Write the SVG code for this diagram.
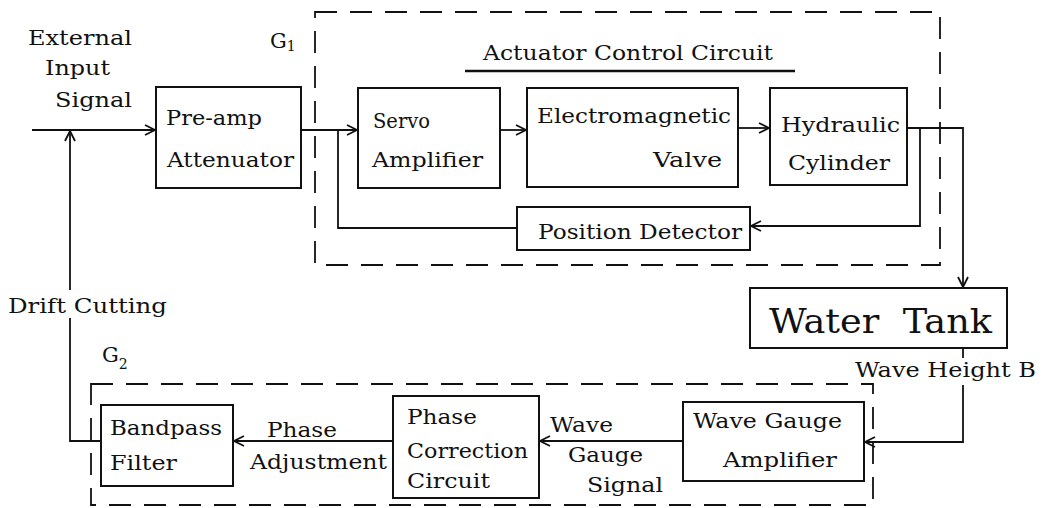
<svg xmlns="http://www.w3.org/2000/svg" width="1047" height="508" viewBox="0 0 1047 508">
<defs>
<style>
.box{fill:#fff;stroke:#111;stroke-width:2}
.dash{fill:none;stroke:#111;stroke-width:1.8;stroke-dasharray:22 13}
.ln{fill:none;stroke:#111;stroke-width:1.8}
text{font-family:"DejaVu Serif","Liberation Serif",serif;font-size:21px;fill:#111}
.big{font-size:34px}
.sm{font-size:20px}
</style>
<marker id="ar" viewBox="0 0 12 12" refX="11" refY="6" markerWidth="12" markerHeight="12" markerUnits="userSpaceOnUse" orient="auto">
<path d="M1,1 L11,6 L1,11" fill="none" stroke="#111" stroke-width="1.8"/>
</marker>
</defs>
<rect width="1047" height="508" fill="#fff"/>

<g id="g1-group">
<rect class="dash" x="315" y="12" width="625" height="253"/>
<text x="270" y="48">G<tspan font-size="14" dy="3">1</tspan></text>
<text x="483" y="60" textLength="290" lengthAdjust="spacingAndGlyphs">Actuator Control Circuit</text>
<line x1="465" y1="71" x2="795" y2="71" stroke="#111" stroke-width="2.6"/>
</g>
<g id="g2-group">
<rect class="dash" x="91" y="384" width="782" height="121"/>
<text x="102" y="362">G<tspan font-size="14" dy="7">2</tspan></text>
</g>

<g id="labels">
<text x="28" y="45" textLength="104" lengthAdjust="spacingAndGlyphs">External</text>
<text x="45" y="75" textLength="65" lengthAdjust="spacingAndGlyphs">Input</text>
<text x="55" y="107" textLength="77" lengthAdjust="spacingAndGlyphs">Signal</text>
<text x="8" y="313" textLength="159" lengthAdjust="spacingAndGlyphs">Drift Cutting</text>
<text x="267" y="437" textLength="70" lengthAdjust="spacingAndGlyphs">Phase</text>
<text x="250" y="469" textLength="137" lengthAdjust="spacingAndGlyphs">Adjustment</text>
<text x="550" y="432" textLength="63" lengthAdjust="spacingAndGlyphs">Wave</text>
<text x="568" y="462" textLength="75" lengthAdjust="spacingAndGlyphs">Gauge</text>
<text x="587" y="492" textLength="76" lengthAdjust="spacingAndGlyphs">Signal</text>
<text class="sm" x="855" y="377" textLength="181" lengthAdjust="spacingAndGlyphs">Wave Height B</text>
</g>

<g id="preamp">
<rect class="box" x="156" y="87" width="145" height="101"/>
<text x="166" y="125" textLength="96" lengthAdjust="spacingAndGlyphs">Pre-amp</text>
<text x="167" y="167" textLength="127" lengthAdjust="spacingAndGlyphs">Attenuator</text>
</g>
<g id="servo">
<rect class="box" x="358" y="88" width="142" height="100"/>
<text x="373" y="128" textLength="57" lengthAdjust="spacingAndGlyphs">Servo</text>
<text x="372" y="167" textLength="111" lengthAdjust="spacingAndGlyphs">Amplifier</text>
</g>
<g id="valve">
<rect class="box" x="527" y="88" width="211" height="99"/>
<text x="537" y="123" textLength="194" lengthAdjust="spacingAndGlyphs">Electromagnetic</text>
<text x="653" y="167" textLength="69" lengthAdjust="spacingAndGlyphs">Valve</text>
</g>
<g id="cylinder">
<rect class="box" x="770" y="88" width="137" height="97"/>
<text x="781" y="132" textLength="119" lengthAdjust="spacingAndGlyphs">Hydraulic</text>
<text x="788" y="170" textLength="102" lengthAdjust="spacingAndGlyphs">Cylinder</text>
</g>
<g id="detector">
<rect class="box" x="517" y="207" width="233" height="43"/>
<text x="538" y="239" textLength="204" lengthAdjust="spacingAndGlyphs">Position Detector</text>
</g>
<g id="tank">
<rect class="box" x="750" y="288" width="257" height="60"/>
<text class="big" x="769" y="333" textLength="223" lengthAdjust="spacingAndGlyphs" xml:space="preserve">Water  Tank</text>
</g>
<g id="gauge-amp">
<rect class="box" x="683" y="402" width="181" height="79"/>
<text x="693" y="428" textLength="149" lengthAdjust="spacingAndGlyphs">Wave Gauge</text>
<text x="723" y="467" textLength="114" lengthAdjust="spacingAndGlyphs">Amplifier</text>
</g>
<g id="phase-corr">
<rect class="box" x="393" y="396" width="146" height="102"/>
<text x="407" y="424" textLength="70" lengthAdjust="spacingAndGlyphs">Phase</text>
<text x="407" y="458" textLength="121" lengthAdjust="spacingAndGlyphs">Correction</text>
<text x="407" y="488" textLength="83" lengthAdjust="spacingAndGlyphs">Circuit</text>
</g>
<g id="bandpass">
<rect class="box" x="101" y="405" width="132" height="81"/>
<text x="110" y="435" textLength="112" lengthAdjust="spacingAndGlyphs">Bandpass</text>
<text x="110" y="470" textLength="67" lengthAdjust="spacingAndGlyphs">Filter</text>
</g>

<g id="connectors">
<line class="ln" x1="32" y1="130" x2="155" y2="130" marker-end="url(#ar)"/>
<line class="ln" x1="301" y1="130" x2="357" y2="130" marker-end="url(#ar)"/>
<polyline class="ln" points="338,130 338,228 517,228"/>
<line class="ln" x1="500" y1="130" x2="526" y2="130" marker-end="url(#ar)"/>
<line class="ln" x1="738" y1="128" x2="769" y2="128" marker-end="url(#ar)"/>
<polyline class="ln" points="907,128 963,128 963,287" marker-end="url(#ar)"/>
<polyline class="ln" points="920,128 920,226 751,226" marker-end="url(#ar)"/>
<line class="ln" x1="963" y1="348" x2="963" y2="358"/>
<polyline class="ln" points="963,385 963,442 865,442" marker-end="url(#ar)"/>
<line class="ln" x1="683" y1="441" x2="540" y2="441" marker-end="url(#ar)"/>
<line class="ln" x1="393" y1="441" x2="234" y2="441" marker-end="url(#ar)"/>
<polyline class="ln" points="101,441 70,441 70,318"/>
<line class="ln" x1="70" y1="290" x2="70" y2="131" marker-end="url(#ar)"/>
</g>
</svg>
